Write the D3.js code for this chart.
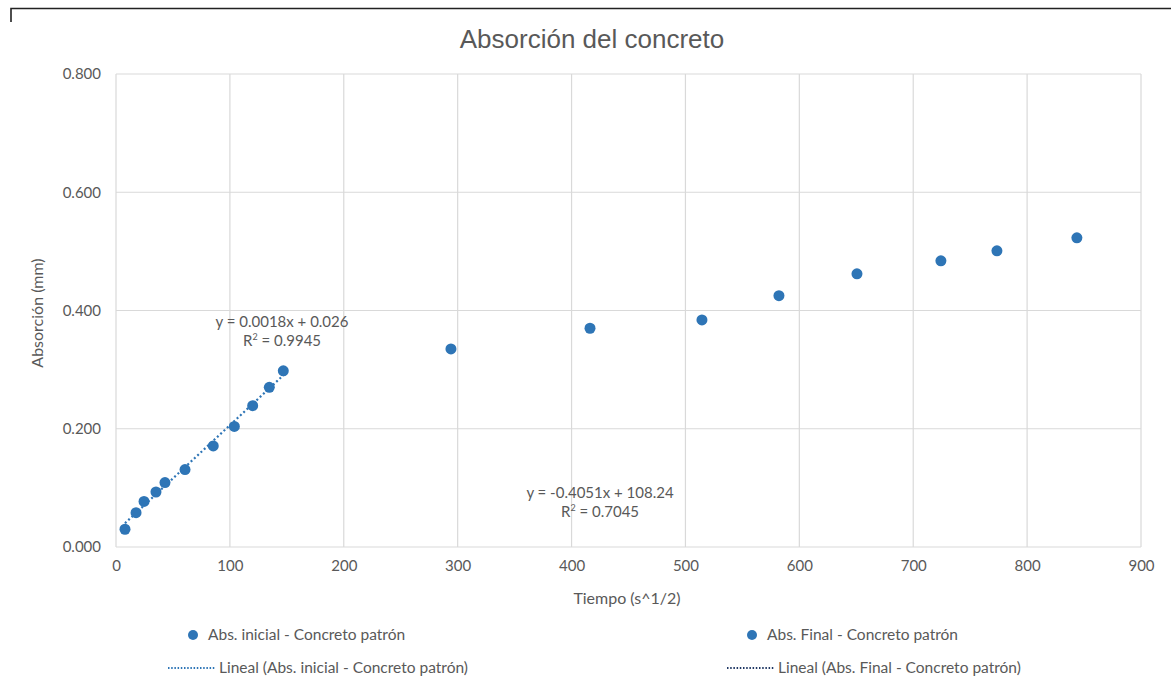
<!DOCTYPE html>
<html>
<head>
<meta charset="utf-8">
<script src="https://cdn.jsdelivr.net/npm/d3@7"></script>
<style>
  html, body { margin: 0; padding: 0; background: #fff; }
  svg { display: block; }
</style>
</head>
<body>
<svg id="chart" width="1171" height="689"></svg>
<script>
// Initial absorption (square-root-of-time vs absorption)
const initialX = [7.9, 17.6, 24.6, 35.1, 43.0, 60.6, 85.4, 103.9, 120.0, 134.6, 146.9];
const initialY = [0.030, 0.058, 0.077, 0.093, 0.109, 0.131, 0.171, 0.204, 0.239, 0.270, 0.298];

// Final absorption
const finalX = [294.1, 416.2, 514.5, 582.1, 650.6, 724.3, 773.5, 843.7];
const finalY = [0.335, 0.370, 0.384, 0.425, 0.462, 0.484, 0.501, 0.523];

// Linear fits as reported on the chart
const initialFit = { slope: 0.0018, intercept: 0.026, r2: "0.9945" };
const finalFit = { slope: -0.4051, intercept: 108.24, r2: "0.7045" };

const xTicks = [0, 100, 200, 300, 400, 500, 600, 700, 800, 900];
const yTicks = [0, 0.2, 0.4, 0.6, 0.8];

const seriesNames = [
  "Abs. inicial - Concreto patrón",
  "Abs. Final - Concreto patrón",
  "Lineal (Abs. inicial - Concreto patrón)",
  "Lineal (Abs. Final - Concreto patrón)"
];

const svg = d3.select("#chart");
const bodyFont = "Lato, 'Open Sans', sans-serif";
const textGray = "#595959";
const blue = "#2E75B6";
const navy = "#203864";

const plot = { left: 116, right: 1141, top: 74, bottom: 547 };
const x = d3.scaleLinear().domain([0, 900]).range([plot.left, plot.right]);
const y = d3.scaleLinear().domain([0, 0.8]).range([plot.bottom, plot.top]);

// Figure frame
svg.append("path")
  .attr("d", "M11,22 V8.5 H1171")
  .attr("fill", "none").attr("stroke", "#222").attr("stroke-width", 1.6);

// Title
svg.append("text")
  .attr("x", 592).attr("y", 48)
  .attr("text-anchor", "middle")
  .attr("font-family", "'Liberation Sans', Arial, sans-serif")
  .attr("font-size", 26)
  .attr("fill", textGray)
  .text("Absorción del concreto");

// Gridlines
const grid = svg.append("g");
grid.selectAll("line.v").data(xTicks).join("line")
  .attr("x1", d => x(d)).attr("x2", d => x(d))
  .attr("y1", plot.top).attr("y2", plot.bottom)
  .attr("stroke", "#d9d9d9").attr("stroke-width", 1.2);
grid.selectAll("line.h").data(yTicks).join("line")
  .attr("x1", plot.left).attr("x2", plot.right)
  .attr("y1", d => y(d)).attr("y2", d => y(d))
  .attr("stroke", "#d9d9d9").attr("stroke-width", 1.2);

// Axes (labels only, Excel style)
const xAxis = svg.append("g")
  .attr("transform", `translate(0,${plot.bottom})`)
  .call(d3.axisBottom(x).tickValues(xTicks).tickSize(0).tickPadding(13).tickFormat(d3.format("d")));
xAxis.select(".domain").remove();
xAxis.selectAll("text")
  .attr("font-family", bodyFont).attr("font-size", 15).attr("fill", textGray);

const yAxis = svg.append("g")
  .attr("transform", `translate(${plot.left},0)`)
  .call(d3.axisLeft(y).tickValues(yTicks).tickSize(0).tickPadding(15).tickFormat(d3.format(".3f")));
yAxis.select(".domain").remove();
yAxis.selectAll("text")
  .attr("font-family", bodyFont).attr("font-size", 15).attr("fill", textGray);

// Axis titles
svg.append("text")
  .attr("x", 627).attr("y", 604)
  .attr("text-anchor", "middle")
  .attr("font-family", bodyFont).attr("font-size", 16).attr("fill", textGray)
  .text("Tiempo (s^1/2)");
svg.append("text")
  .attr("transform", "translate(43,313) rotate(-90)")
  .attr("text-anchor", "middle")
  .attr("font-family", bodyFont).attr("font-size", 16).attr("fill", textGray)
  .text("Absorción (mm)");

// Trendline of the initial series across its data range
const xMin = d3.min(initialX), xMax = d3.max(initialX);
svg.append("line")
  .attr("x1", x(xMin)).attr("y1", y(initialFit.slope * xMin + initialFit.intercept))
  .attr("x2", x(xMax)).attr("y2", y(initialFit.slope * xMax + initialFit.intercept))
  .attr("stroke", blue).attr("stroke-width", 2.2)
  .attr("stroke-dasharray", "2 2.5");

// Final trendline is computed but lies far below the visible y range
svg.append("clipPath").attr("id", "plotClip")
  .append("rect").attr("x", plot.left).attr("y", plot.top)
  .attr("width", plot.right - plot.left).attr("height", plot.bottom - plot.top);
const fxMin = d3.min(finalX), fxMax = d3.max(finalX);
svg.append("line")
  .attr("clip-path", "url(#plotClip)")
  .attr("x1", x(fxMin)).attr("y1", y(finalFit.slope * fxMin + finalFit.intercept))
  .attr("x2", x(fxMax)).attr("y2", y(finalFit.slope * fxMax + finalFit.intercept))
  .attr("stroke", navy).attr("stroke-width", 2.2)
  .attr("stroke-dasharray", "2 2.5");

// Points
const initialPts = initialX.map((v, i) => [v, initialY[i]]);
const finalPts = finalX.map((v, i) => [v, finalY[i]]);
svg.append("g").selectAll("circle").data(initialPts).join("circle")
  .attr("cx", d => x(d[0])).attr("cy", d => y(d[1])).attr("r", 5.5)
  .attr("fill", blue);
svg.append("g").selectAll("circle").data(finalPts).join("circle")
  .attr("cx", d => x(d[0])).attr("cy", d => y(d[1])).attr("r", 5.5)
  .attr("fill", blue);

// Trendline equation labels
function fmtEq(fit) {
  const sign = fit.intercept < 0 ? "-" : "+";
  return `y = ${fit.slope}x ${sign} ${Math.abs(fit.intercept)}`;
}
function eqLabel(cx, cy, fit) {
  const g = svg.append("g")
    .attr("font-family", bodyFont).attr("font-size", 15).attr("fill", textGray)
    .attr("text-anchor", "middle");
  g.append("text").attr("x", cx).attr("y", cy).text(fmtEq(fit));
  const t = g.append("text").attr("x", cx).attr("y", cy + 19);
  t.append("tspan").text("R");
  t.append("tspan").attr("font-size", 9).attr("dy", -6).text("2");
  t.append("tspan").attr("dy", 6).text(" = " + fit.r2);
}
eqLabel(282, 327, initialFit);
eqLabel(600, 498, finalFit);

// Legend
const leg = svg.append("g")
  .attr("font-family", bodyFont).attr("font-size", 15.5).attr("fill", textGray);
const legendItems = [
  { name: seriesNames[0], kind: "dot", color: blue, x: 193, y: 635 },
  { name: seriesNames[1], kind: "dot", color: blue, x: 752, y: 635 },
  { name: seriesNames[2], kind: "line", color: blue, x: 192, y: 668 },
  { name: seriesNames[3], kind: "line", color: navy, x: 751, y: 668 }
];
legendItems.forEach(it => {
  if (it.kind === "dot") {
    leg.append("circle").attr("cx", it.x).attr("cy", it.y).attr("r", 5).attr("fill", it.color);
    leg.append("text").attr("x", it.x + 15).attr("y", it.y + 5).text(it.name);
  } else {
    leg.append("line")
      .attr("x1", it.x - 24).attr("x2", it.x + 24)
      .attr("y1", it.y).attr("y2", it.y)
      .attr("stroke", it.color).attr("stroke-width", 2)
      .attr("stroke-dasharray", "1.5 1.7");
    leg.append("text").attr("x", it.x + 27).attr("y", it.y + 5).text(it.name);
  }
});
</script>
</body>
</html>
